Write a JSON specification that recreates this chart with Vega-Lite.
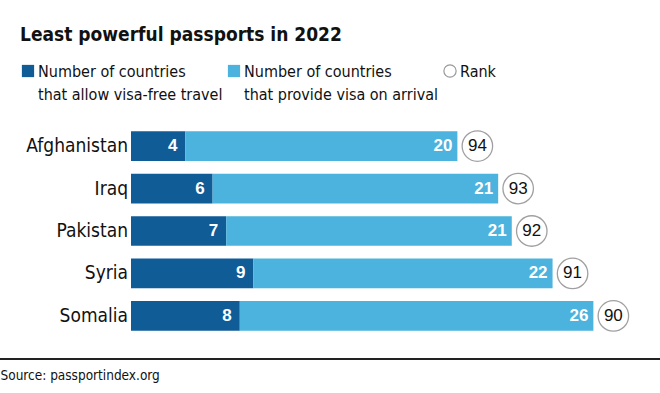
{
  "$schema": "https://vega.github.io/schema/vega-lite/v6.json",
  "autosize": "none",
  "width": 660,
  "height": 214,
  "padding": {"left": 0, "top": 124, "right": 0, "bottom": 55},
  "background": "white",
  "config": {
    "view": {"stroke": null},
    "font": "DejaVu Sans Condensed, sans-serif"
  },
  "title": {
    "text": "Least powerful passports in 2022",
    "anchor": "start",
    "frame": "group",
    "dx": 20,
    "offset": 18,
    "fontSize": 19,
    "fontWeight": "bold",
    "color": "#111",
    "font": "DejaVu Sans Condensed, sans-serif"
  },
  "data": {
    "values": [
      {"country": "Afghanistan", "free": 4, "arrival": 20, "total": 24, "rank": 94},
      {"country": "Iraq", "free": 6, "arrival": 21, "total": 27, "rank": 93},
      {"country": "Pakistan", "free": 7, "arrival": 21, "total": 28, "rank": 92},
      {"country": "Syria", "free": 9, "arrival": 22, "total": 31, "rank": 91},
      {"country": "Somalia", "free": 8, "arrival": 26, "total": 34, "rank": 90}
    ]
  },
  "encoding": {
    "y": {
      "field": "country",
      "type": "nominal",
      "sort": null,
      "scale": {"paddingInner": 0.3, "paddingOuter": 0.17},
      "axis": null
    }
  },
  "layer": [
    {
      "mark": {"type": "bar"},
      "encoding": {
        "x": {
          "field": "free",
          "type": "quantitative",
          "scale": {"domain": [0, 38.9], "range": [131, 660], "nice": false, "zero": true},
          "axis": {
            "orient": "bottom",
            "domain": false,
            "ticks": false,
            "labels": false,
            "grid": false,
            "title": "Source: passportindex.org",
            "titleX": 0,
            "titleY": 41,
            "titleAnchor": "start",
            "titleAlign": "left",
            "titleBaseline": "alphabetic",
            "titleFontWeight": "normal",
            "titleFontSize": 13.5,
            "titleColor": "#111",
            "titleFont": "DejaVu Sans Condensed, sans-serif"
          }
        },
        "color": {
          "datum": "free",
          "type": "nominal",
          "scale": {"domain": ["free", "arrival", "rank"], "range": ["#0f5c97", "#4bb3dd", "#ffffff"]},
          "legend": {
            "orient": "none",
            "legendX": 20,
            "legendY": -61,
            "direction": "horizontal",
            "title": null,
            "columns": 3,
            "columnPadding": 3,
            "symbolSize": 150,
            "symbolStrokeWidth": 1.2,
            "labelFontSize": 16,
            "labelColor": "#111",
            "labelOffset": 2,
            "labelBaseline": "alphabetic",
            "labelLimit": 300,
            "labelFont": "DejaVu Sans Condensed, sans-serif",
            "labelExpr": "datum.value == 'free' ? ['Number of countries', 'that allow visa-free travel'] : datum.value == 'arrival' ? ['Number of countries', 'that provide visa on arrival'] : ['Rank', ' ']",
            "encode": {
              "symbols": {
                "update": {
                  "shape": {"signal": "datum.value == 'rank' ? 'circle' : 'square'"},
                  "stroke": {"signal": "datum.value == 'rank' ? '#999999' : null"},
                  "strokeWidth": {"value": 1.2}
                }
              },
              "labels": {
                "update": {"dy": {"value": 6}, "lineHeight": {"value": 23}}
              }
            }
          }
        }
      }
    },
    {
      "mark": {"type": "bar"},
      "encoding": {
        "x": {"field": "free", "type": "quantitative"},
        "x2": {"field": "total"},
        "color": {"datum": "arrival", "type": "nominal"}
      }
    },
    {
      "mark": {"type": "text", "align": "right", "baseline": "middle", "dx": -8, "fontSize": 17, "fontWeight": "bold", "color": "white", "font": "Liberation Sans, sans-serif"},
      "encoding": {
        "x": {"field": "free", "type": "quantitative"},
        "text": {"field": "free", "type": "quantitative"}
      }
    },
    {
      "mark": {"type": "text", "align": "right", "baseline": "middle", "dx": -5, "fontSize": 17, "fontWeight": "bold", "color": "white", "font": "Liberation Sans, sans-serif"},
      "encoding": {
        "x": {"field": "total", "type": "quantitative"},
        "text": {"field": "arrival", "type": "quantitative"}
      }
    },
    {
      "mark": {"type": "point", "filled": true, "shape": "circle", "size": 930, "stroke": "#a0a0a0", "strokeWidth": 1.3, "strokeOpacity": 1, "opacity": 1, "xOffset": 20},
      "encoding": {
        "x": {"field": "total", "type": "quantitative"},
        "color": {"datum": "rank", "type": "nominal"}
      }
    },
    {
      "mark": {"type": "text", "align": "center", "baseline": "middle", "dx": 20, "fontSize": 17, "color": "#111", "font": "Liberation Sans, sans-serif"},
      "encoding": {
        "x": {"field": "total", "type": "quantitative"},
        "text": {"field": "rank", "type": "quantitative"}
      }
    },
    {
      "mark": {"type": "text", "align": "right", "baseline": "middle", "dx": -3, "fontSize": 19, "color": "#111", "font": "DejaVu Sans Condensed, sans-serif"},
      "encoding": {
        "x": {"datum": 0, "type": "quantitative"},
        "text": {"field": "country", "type": "nominal"}
      }
    },
    {
      "mark": {"type": "rule", "color": "#666666", "strokeWidth": 1.5},
      "encoding": {
        "x": {"datum": 0, "type": "quantitative"}
      }
    },
    {
      "mark": {"type": "rule", "color": "#222222", "strokeWidth": 2, "yOffset": 21},
      "encoding": {
        "y": {"value": "height"}
      }
    }
  ]
}
